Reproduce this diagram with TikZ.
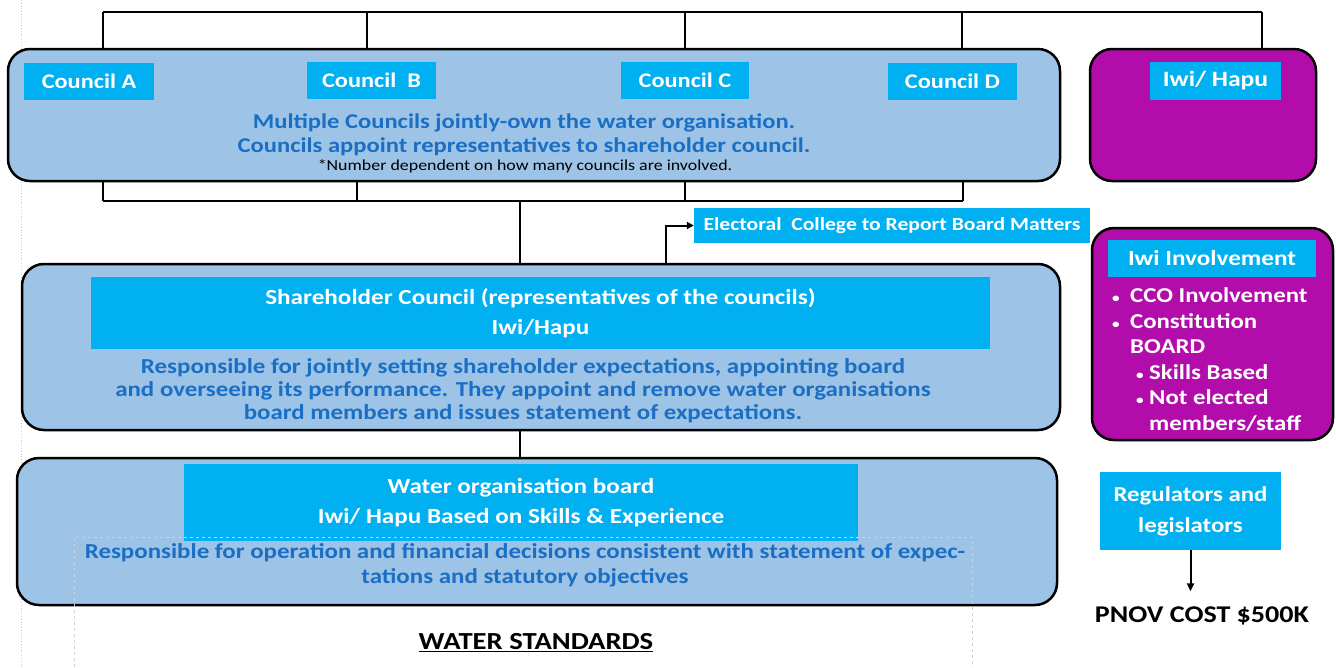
\documentclass[tikz,border=0pt]{standalone}
\usepackage{fontspec}
\setmainfont{Carlito}[FakeStretch=1.17]
\usetikzlibrary{positioning, arrows.meta}
\definecolor{boxblue}{HTML}{9DC3E6}
\definecolor{labelcyan}{HTML}{00B0F0}
\definecolor{textblue}{HTML}{1A6FC4}
\definecolor{iwipurple}{HTML}{B20DAB}
\definecolor{faintframe}{HTML}{C8D2E0}
\newcommand\fsz[2]{\fontsize{#1}{#2}\selectfont}
\newcommand\blt{{\fsz{13}{13}\textbullet}}
\tikzset{
  panel/.style={draw, line width=2.5pt, rounded corners=22pt, fill=boxblue},
  iwipanel/.style={panel, fill=iwipurple},
  tag/.style={fill=labelcyan, text=white, font=\bfseries\fsz{21.5}{30}, inner sep=0pt, align=center},
  note/.style={text=textblue, font=\bfseries\fsz{21.3}{23}, align=center, inner sep=0pt},
  link/.style={line width=2pt},
}
\begin{document}
\begin{tikzpicture}[x=1pt, y=-1pt]
  \useasboundingbox (0,0) rectangle (1336,667);
  \draw[labelcyan!40, dotted, line width=0.8pt] (21,0) -- (21,667);

  % councils
  \node[panel, minimum width=1052pt, minimum height=132pt] (councils) at (534,115) {};
  \node[tag, font=\bfseries\fsz{20.8}{24}, minimum width=130pt, minimum height=37pt] (councilA) at (89,81.5) {Council A};
  \node[tag, font=\bfseries\fsz{20.8}{24}, minimum width=129pt, minimum height=37pt] (councilB) at (371.5,80.5) {Council\ \ B};
  \node[tag, font=\bfseries\fsz{20.8}{24}, minimum width=128pt, minimum height=37pt] (councilC) at (685,80.5) {Council C};
  \node[tag, font=\bfseries\fsz{20.8}{24}, minimum width=129pt, minimum height=37pt] (councilD) at (952.5,81.5) {Council D};
  \node[note, font=\bfseries\fsz{21}{24}] (ownnote) at (524,135) {Multiple Councils jointly-own the water organisation.\\Councils appoint representatives to shareholder council.};
  \node[font=\fsz{15.3}{17}, inner sep=0pt] (numnote) at (525,166) {*Number dependent on how many councils are involved.};

  % iwi / hapu
  \node[iwipanel, minimum width=226pt, minimum height=132pt] (iwi) at (1203,115) {};
  \node[tag, font=\bfseries\fsz{21.9}{24}, minimum width=131pt, minimum height=38pt] (iwitag) at (1215.5,81) {Iwi/ Hapu};

  % brackets
  \foreach \x in {103,367,685,962,1262}
    \coordinate (t\x) at (\x,12);
  \draw[link] (t103) -- (t1262);
  \foreach \x in {103,367,685,962}
    \draw[link] (t\x) -- (t\x |- councils.north);
  \draw[link] (t1262) -- (t1262 |- iwi.north);
  \foreach \x in {103,357,685,963}
    \coordinate (b\x) at (\x,201);
  \foreach \x in {103,357,685,963}
    \draw[link] (b\x |- councils.south) -- (b\x);
  \draw[link] (b103) -- (b963);
  \coordinate (spine) at (520,201);

  % shareholder council
  \node[panel, minimum width=1038pt, minimum height=166pt] (share) at (541,347) {};
  \node[tag, minimum width=899pt, minimum height=72pt] (sharetag) at (540.5,313) {Shareholder Council (representatives of the councils)\\Iwi/Hapu};
  \node[note] (sharenote) at (523,391) {Responsible for jointly setting shareholder expectations, appointing board\\and overseeing its performance. They appoint and remove water organisations\\board members and issues statement of expectations.};
  \draw[link] (spine) -- (spine |- share.north);

  \node[tag, font=\bfseries\fsz{18.5}{20}, minimum width=396pt, minimum height=35pt] (electoral) at (892,225.5) {Electoral\ \ College to Report Board Matters};
  \draw[link, -{Triangle[length=7pt, width=7pt]}] ([xshift=-28pt]share.north -| electoral.west) |- (electoral.west);

  % water organisation board
  \node[panel, minimum width=1040pt, minimum height=147pt] (water) at (537,531.5) {};
  \node[tag, minimum width=674pt, minimum height=77pt] (watertag) at (521,502.5) {Water organisation board\\Iwi/ Hapu Based on Skills \& Experience};
  \draw[faintframe, dashed, line width=0.7pt] (74,667) -- (74,537) -- (972,537) -- (972,667);
  \node[note, font=\bfseries\fsz{21.3}{25}] (waternote) at (525,565.5) {Responsible for operation and financial decisions consistent with statement of expec-\\tations and statutory objectives};
  \draw[link] (spine |- share.south) -- (spine |- water.north);

  \node[font=\bfseries\fsz{24.5}{28}] (standards) at (536,643) {\underline{WATER STANDARDS}};

  % iwi involvement
  \node[iwipanel, minimum width=241pt, minimum height=212pt] (involve) at (1212.5,334) {};
  \node[tag, minimum width=208pt, minimum height=37pt] (involvetag) at (1212,258.5) {Iwi Involvement};
  \node[text=white, font=\bfseries\fsz{21.2}{25.6}, align=left, inner sep=0pt, anchor=north west] (involvelist) at (1112,287.5)
    {\makebox[18pt][l]{\blt}CCO Involvement\\
     \makebox[18pt][l]{\blt}Constitution\\
     \hspace*{18pt}BOARD\\
     \hspace*{24pt}\makebox[13pt][l]{\blt}Skills Based\\
     \hspace*{24pt}\makebox[13pt][l]{\blt}Not elected\\
     \hspace*{37pt}members/staff};

  % regulators
  \node[tag, font=\bfseries\fsz{21.2}{31}, minimum width=181pt, minimum height=78pt] (regulators) at (1190.5,511) {Regulators and\\legislators};
  \node[font=\bfseries\fsz{24}{28}] (pnov) at (1202,616) {PNOV COST \$500K};
  \draw[link, -{Triangle[length=8pt, width=7pt]}] (regulators.south) -- ([yshift=12pt]regulators.south |- pnov.north);
\end{tikzpicture}
\end{document}
